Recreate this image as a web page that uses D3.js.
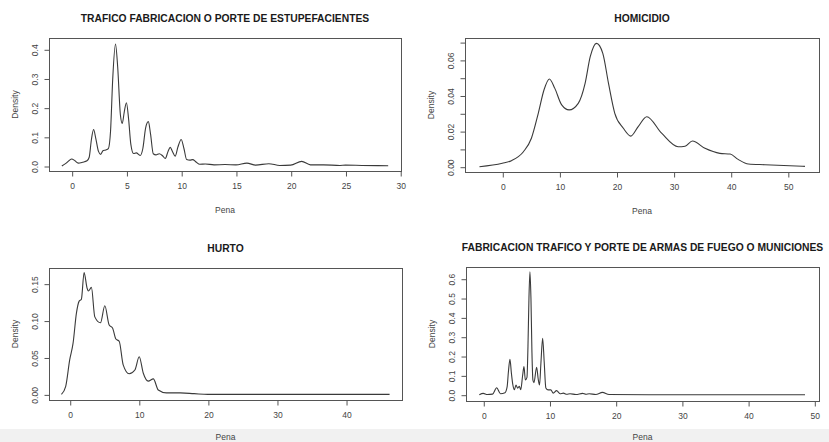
<!DOCTYPE html>
<html>
<head>
<meta charset="utf-8">
<script src="https://cdn.jsdelivr.net/npm/d3@7"></script>
<style>
  body { margin: 0; background: #fff; }
  svg text { font-family: "Liberation Sans", Arial, sans-serif; }
</style>
</head>
<body>
<svg id="chart" width="829" height="442"></svg>
<script>
// Density curves (x = Pena, y = Density)
const trafX = [-0.9, -0.5, -0.2, 0.0, 0.3, 0.6, 1.0, 1.4, 1.6, 1.8, 2.0, 2.2, 2.45, 2.65, 2.85, 3.1, 3.35, 3.55, 3.75, 4.0, 4.2, 4.45, 4.62, 4.8, 5.0, 5.2, 5.4, 5.65, 5.9, 6.25, 6.5, 6.75, 7.0, 7.2, 7.45, 7.7, 8.0, 8.3, 8.55, 8.8, 9.0, 9.2, 9.45, 9.7, 10.0, 10.25, 10.5, 10.8, 11.05, 11.35, 11.7, 12.2, 13.0, 14.0, 15.0, 16.0, 16.8, 18.0, 19.0, 20.0, 21.0, 21.8, 23.0, 24.5, 25.0, 26.5, 28.9];
const trafY = [0.000, 0.010, 0.020, 0.024, 0.018, 0.010, 0.013, 0.018, 0.030, 0.090, 0.125, 0.095, 0.050, 0.040, 0.052, 0.055, 0.060, 0.120, 0.300, 0.418, 0.340, 0.175, 0.146, 0.185, 0.217, 0.160, 0.075, 0.043, 0.045, 0.036, 0.060, 0.130, 0.152, 0.110, 0.042, 0.038, 0.042, 0.035, 0.026, 0.050, 0.064, 0.050, 0.034, 0.065, 0.091, 0.060, 0.022, 0.020, 0.022, 0.014, 0.006, 0.007, 0.004, 0.005, 0.004, 0.010, 0.003, 0.008, 0.002, 0.003, 0.016, 0.004, 0.004, 0.002, 0.003, 0.002, 0.001];

const homX = [-4.0, 0.0, 1.6, 3.7, 5.1, 6.3, 7.3, 8.24, 9.2, 10.4, 11.7, 13.3, 14.5, 15.4, 16.5, 17.6, 18.6, 19.7, 21.2, 22.5, 23.8, 25.3, 27.9, 30.8, 32.0, 33.3, 35.5, 38.1, 39.9, 41.3, 43.1, 46.0, 53.0];
const homY = [0.0000, 0.0019, 0.0034, 0.0084, 0.0160, 0.0300, 0.0431, 0.0493, 0.0440, 0.0347, 0.0319, 0.0356, 0.0468, 0.0618, 0.0693, 0.0637, 0.0468, 0.0300, 0.0216, 0.0172, 0.0225, 0.0281, 0.0188, 0.0112, 0.0115, 0.0144, 0.0103, 0.0075, 0.0071, 0.0041, 0.0015, 0.0011, 0.0002];

const hurX = [-1.2, -0.58, 0.0, 0.48, 0.97, 1.35, 1.69, 2.08, 2.51, 2.7, 3.14, 3.63, 4.45, 5.08, 5.71, 6.2, 6.68, 7.16, 7.74, 8.6, 9.43, 10.06, 10.64, 11.37, 12.1, 12.82, 14.0, 16.0, 18.0, 20.0, 30.0, 46.3];
const hurY = [0.000, 0.011, 0.047, 0.069, 0.110, 0.126, 0.129, 0.165, 0.144, 0.140, 0.145, 0.105, 0.097, 0.120, 0.094, 0.090, 0.075, 0.072, 0.040, 0.028, 0.033, 0.051, 0.029, 0.018, 0.021, 0.006, 0.002, 0.002, 0.001, 0.000, 0.000, 0.000];

const armX = [-0.6, 0.0, 0.6, 1.4, 2.02, 2.6, 3.28, 3.6, 3.8, 4.03, 4.25, 4.45, 4.7, 4.94, 5.2, 5.44, 5.66, 5.95, 6.15, 6.35, 6.6, 6.75, 6.9, 7.05, 7.2, 7.35, 7.5, 7.65, 8.06, 8.3, 8.5, 8.7, 8.97, 9.2, 9.45, 9.8, 10.2, 10.57, 11.07, 11.6, 12.1, 12.6, 13.1, 14.0, 15.0, 15.5, 16.0, 17.0, 18.0, 19.0, 25.0, 48.6];
const armY = [0.000, 0.007, 0.001, 0.003, 0.036, 0.005, 0.010, 0.040, 0.120, 0.183, 0.110, 0.055, 0.026, 0.050, 0.034, 0.043, 0.026, 0.102, 0.145, 0.076, 0.090, 0.250, 0.500, 0.636, 0.500, 0.220, 0.075, 0.062, 0.142, 0.080, 0.050, 0.160, 0.292, 0.170, 0.035, 0.025, 0.025, 0.008, 0.021, 0.005, 0.008, 0.002, 0.005, 0.001, 0.007, 0.002, 0.005, 0.001, 0.012, 0.001, 0.000, 0.000];

const titles = [
  "TRAFICO FABRICACION O PORTE DE ESTUPEFACIENTES",
  "HOMICIDIO",
  "HURTO",
  "FABRICACION TRAFICO Y PORTE DE ARMAS DE FUEGO O MUNICIONES"
];

const trafXTicks = [0, 5, 10, 15, 20, 25, 30];
const homXTicks = [0, 10, 20, 30, 40, 50];
const hurXTicks = [0, 10, 20, 30, 40];
const armXTicks = [0, 10, 20, 30, 40, 50];

const trafYTicks = [0, 0.1, 0.2, 0.3, 0.4];
const homYTicks = [0, 0.01, 0.02, 0.03, 0.04, 0.05, 0.06, 0.07];
const hurYTicks = [0, 0.05, 0.10, 0.15];
const armYTicks = [0, 0.1, 0.2, 0.3, 0.4, 0.5, 0.6];

// panel boxes (pixels) and plot ranges
const panels = [
  { x: trafX, y: trafY, title: titles[0], xt: trafXTicks, yt: trafYTicks, fmt: d3.format(".1f"), every: 1,
    box: [49, 401, 38, 171], xd: [-2.07, 30.07], yd: [-0.0171, 0.4387] },
  { x: homX, y: homY, title: titles[1], xt: homXTicks, yt: homYTicks, fmt: d3.format(".2f"), every: 2,
    box: [465, 819, 38, 172], xd: [-6.53, 55.46], yd: [-0.00298, 0.0723] },
  { x: hurX, y: hurY, title: titles[2], xt: hurXTicks, yt: hurYTicks, fmt: d3.format(".2f"), every: 1,
    box: [49, 402, 268, 400], xd: [-3.0, 48.1], yd: [-0.0076, 0.1712] },
  { x: armX, y: armY, title: titles[3], xt: armXTicks, yt: armYTicks, fmt: d3.format(".1f"), every: 1,
    box: [466, 819, 267, 401], xd: [-2.61, 50.71], yd: [-0.0326, 0.6606] }
];

const svg = d3.select("#chart");

// light grey strip along the bottom of the screenshot
svg.append("rect")
   .attr("x", 0).attr("y", 429)
   .attr("width", 829).attr("height", 13)
   .attr("fill", "#f1f1f1");

panels.forEach(p => {
    const [l, r, t, b] = p.box;
    const x = d3.scaleLinear().domain(p.xd).range([l, r]);
    const y = d3.scaleLinear().domain(p.yd).range([b, t]);
    const g = svg.append("g");

    // box
    g.append("rect")
     .attr("x", l + 0.5).attr("y", t + 0.5)
     .attr("width", r - l).attr("height", b - t)
     .attr("fill", "none")
     .attr("stroke", "#555")
     .attr("stroke-width", 1);

    // x axis
    const xAxis = d3.axisBottom(x).tickValues(p.xt).tickSize(5).tickPadding(6).tickFormat(d3.format("d"));
    const xa = g.append("g").attr("transform", `translate(0.5,${b + 0.5})`).call(xAxis);
    xa.select(".domain").remove();
    xa.selectAll("line").attr("stroke", "#555");
    xa.selectAll("text").attr("font-size", 8.5).attr("fill", "#444")
      .attr("font-family", "Liberation Sans, Arial, sans-serif");

    // y axis: rotated labels like base R
    const yAxis = d3.axisLeft(y).tickValues(p.yt).tickSize(5)
                    .tickFormat((d, i) => i % p.every === 0 ? p.fmt(d) : "");
    const ya = g.append("g").attr("transform", `translate(${l + 0.5},0.5)`).call(yAxis);
    ya.select(".domain").remove();
    ya.selectAll("line").attr("stroke", "#555");
    ya.selectAll("text")
      .attr("x", null).attr("dy", null)
      .attr("font-size", 8.5).attr("fill", "#444")
      .attr("font-family", "Liberation Sans, Arial, sans-serif")
      .attr("text-anchor", "middle")
      .attr("transform", "translate(-12,0) rotate(-90)");

    // density curve
    const pts = p.x.map((v, i) => [v, p.y[i]]);
    const line = d3.line()
                   .x(d => x(d[0]))
                   .y(d => y(d[1]))
                   .curve(d3.curveMonotoneX);
    g.append("path")
     .datum(pts)
     .attr("d", line)
     .attr("fill", "none")
     .attr("stroke", "#3a3a3a")
     .attr("stroke-width", 1.1);

    // titles and axis labels
    g.append("text")
     .attr("x", (l + r) / 2).attr("y", t - 16)
     .attr("text-anchor", "middle")
     .attr("font-size", 10.3).attr("font-weight", "bold")
     .attr("fill", "#1a1a1a")
     .text(p.title);

    g.append("text")
     .attr("x", (l + r) / 2).attr("y", Math.min(b + 42, 440))
     .attr("text-anchor", "middle")
     .attr("font-size", 8.5).attr("fill", "#444")
     .text("Pena");

    g.append("text")
     .attr("transform", `translate(${l - 31},${(t + b) / 2}) rotate(-90)`)
     .attr("text-anchor", "middle")
     .attr("font-size", 8.5).attr("fill", "#444")
     .text("Density");
});
</script>
</body>
</html>
